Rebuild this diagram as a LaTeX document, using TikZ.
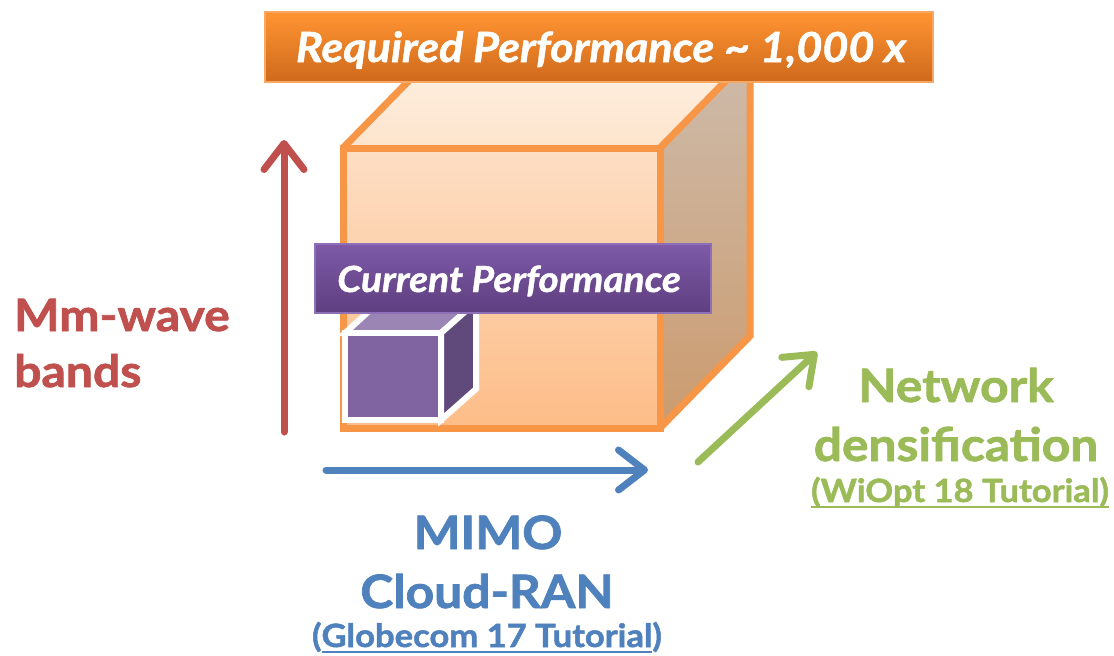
\documentclass[tikz,border=0pt]{standalone}
\usepackage{fontspec}
\setmainfont{Lato}[
  BoldFeatures={FakeBold=1.6, FakeStretch=1.08},
  BoldItalicFeatures={FakeBold=1.2, FakeStretch=1.08}]
\usetikzlibrary{arrows.meta}
% heavier underline placed a little below the baseline
\newcommand{\thickul}[1]{\vtop{\hbox{\smash{#1}}\kern4pt\hrule height 2.4pt}}
\definecolor{edgeor}{HTML}{F79646}
\definecolor{redA}{HTML}{C0504D}
\definecolor{blueA}{HTML}{4F81BD}
\definecolor{greenA}{HTML}{9BBB59}
\definecolor{purF}{HTML}{8064A2}
\definecolor{purR}{HTML}{604A7B}
\definecolor{purT}{HTML}{9A85B5}
\definecolor{topA}{HTML}{FEF0E3}
\definecolor{topB}{HTML}{FDE4CC}
\definecolor{sideA}{HTML}{CDBBAB}
\definecolor{sideB}{HTML}{CC9B6E}
\definecolor{frontA}{HTML}{FDDEC4}
\definecolor{frontB}{HTML}{FDBD88}
\definecolor{labA}{HTML}{7E5AA8}
\definecolor{labB}{HTML}{5E3E7F}
\definecolor{labE}{HTML}{8E70B8}
\definecolor{banA}{HTML}{FF9432}
\definecolor{banB}{HTML}{CF6A1C}
\definecolor{banE}{HTML}{F8A862}
\tikzset{
  cubeedge/.style={draw=edgeor, line width=7pt, line join=miter},
  smalledge/.style={draw=white, line width=6pt, line join=miter},
  axisarrow/.style={line width=7pt, line cap=round,
     -{Straight Barb[length=26pt, width=40pt, round]}},
  bigtxt/.style={font=\bfseries\fontsize{46}{50}\selectfont, inner sep=0pt},
  redtxt/.style={font=\bfseries\fontsize{44.5}{48}\selectfont, inner sep=0pt, text=redA},
  smalltxt/.style={font=\bfseries\fontsize{32}{34}\selectfont, inner sep=0pt},
  bannertxt/.style={text=white, inner sep=0pt},
}
\begin{document}
\begin{tikzpicture}[x=1pt, y=-1pt]
\useasboundingbox (0,0) rectangle (1114,656);

% large cube (required performance)
\coordinate (fTL) at (343,148);
\coordinate (fTR) at (660,148);
\coordinate (fBR) at (660,428);
\coordinate (fBL) at (343,428);
\coordinate (bTL) at (433,56);
\coordinate (bTR) at (750,56);
\coordinate (bBR) at (750,336);
\fill[top color=topA, bottom color=topB] (fTL) -- (bTL) -- (bTR) -- (fTR) -- cycle;
\fill[top color=sideA, bottom color=sideB] (fTR) -- (bTR) -- (bBR) -- (fBR) -- cycle;
\fill[top color=frontA, bottom color=frontB] (fTL) rectangle (fBR);
\draw[cubeedge] (fTL) -- (bTL) -- (bTR) -- (bBR) -- (fBR);
\draw[cubeedge] (fTR) -- (bTR);
\draw[cubeedge] (fTL) rectangle (fBR);

% small cube (current performance)
\coordinate (sTL) at (345,333);
\coordinate (sTR) at (441,333);
\coordinate (sBR) at (441,420);
\coordinate (sBL) at (345,420);
\coordinate (tTL) at (379,302);
\coordinate (tTR) at (476,302);
\coordinate (tBR) at (476,389);
\filldraw[smalledge, fill=purT] (sTL) -- (tTL) -- (tTR) -- (sTR) -- cycle;
\filldraw[smalledge, fill=purR] (sTR) -- (tTR) -- (tBR) -- (sBR) -- cycle;
\filldraw[smalledge, fill=purF] (sTL) rectangle (sBR);

% labels on the cubes
\node[draw=labE, line width=1.5pt, top color=labA, bottom color=labB,
      minimum width=396pt, minimum height=69pt, inner sep=0pt] (cur) at (513,278.5) {};
\node[bannertxt, font=\bfseries\itshape\fontsize{36}{38}\selectfont, anchor=base] (curtxt) at (509,292) {Current Performance};

\node[draw=banE, line width=1.5pt, top color=banA, bottom color=banB,
      minimum width=668pt, minimum height=70pt, inner sep=0pt] (req) at (599,47) {};
\node[bannertxt, font=\bfseries\itshape\fontsize{41.5}{44}\selectfont, anchor=base] (reqtxt) at (601,62) {Required Performance \textasciitilde{} 1,000 x};

% growth directions
\coordinate (rS) at (284,432);
\coordinate (rE) at (284,140);
\draw[axisarrow, redA] (rS) -- (rE);
\coordinate (bS) at (326,470);
\coordinate (bE) at (648,470);
\draw[axisarrow, blueA] (bS) -- (bE);
\coordinate (gS) at (698,462);
\coordinate (gE) at (817,352);
\draw[axisarrow, greenA] (gS) -- (gE);

% captions
\node[redtxt, anchor=base west] (mm1) at (14,331) {Mm-wave};
\node[redtxt, anchor=base west] (mm2) at (14,387) {bands};

\node[bigtxt, text=blueA, anchor=base] (mimo) at (488,549) {MIMO};
\node[bigtxt, text=blueA, anchor=base] (cran) at (487,608) {Cloud-RAN};
\node[smalltxt, text=blueA, anchor=base] (glob) at (487,647) {(\thickul{Globecom 17 Tutorial})};

\node[bigtxt, text=greenA, anchor=base] (net) at (956,402) {Network};
\node[bigtxt, text=greenA, anchor=base] (dens) at (956,461) {densification};
\node[smalltxt, text=greenA, anchor=base] (wiopt) at (960,502) {\thickul{(WiOpt 18 Tutorial)}};
\end{tikzpicture}
\end{document}
